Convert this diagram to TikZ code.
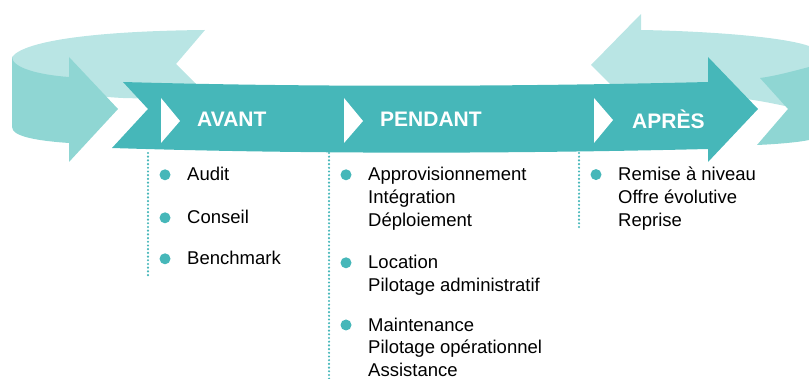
\documentclass[tikz,border=0pt]{standalone}
\usepackage{fontspec}
\setmainfont{Liberation Sans}
\usetikzlibrary{positioning}
\definecolor{ringdark}{HTML}{46B7B9}
\definecolor{ringmid}{HTML}{8FD6D3}
\definecolor{ringlight}{HTML}{B9E5E4}
\tikzset{
 phase/.style={text=white, font=\fontsize{21}{25}\selectfont\bfseries, anchor=west, inner sep=0pt},
 item/.style={font=\fontsize{18.5}{22.7}\selectfont, align=left, anchor=base west, inner sep=0pt},
 bullet/.style={circle, fill=ringdark, minimum size=11pt, inner sep=0pt},
 guide/.style={ringdark, line width=2.4pt, line cap=round, dash pattern=on 0pt off 3.7pt}
}

\begin{document}
\begin{tikzpicture}[x=1pt, y=-1pt]
 \useasboundingbox (0,0) rectangle (809,379);
 % back of the ring
 \fill[ringlight] (12,57) .. controls (25,40) and (100,31) .. (205,30) -- (176,64) -- (200,88)
   -- (200,100) -- (123,98) .. controls (60,95) and (12,80) .. (12,57) -- cycle;
 \fill[ringlight] (591,65) -- (641,14) -- (641,30) .. controls (700,31) and (780,36) .. (809,46)
   -- (809,112) .. controls (780,104) and (740,96) .. (700,95) -- (641,95) -- (641,115) -- cycle;
 % front of the ring
 \fill[ringmid] (12,57) .. controls (12,68) and (40,75) .. (69,77) -- (69,57) -- (118,109)
   -- (69,162) -- (69,143) .. controls (40,141) and (12,137) .. (12,127) -- cycle;
 \fill[ringmid] (760,78) -- (788,109) -- (757,145) .. controls (780,144) and (800,142) .. (809,140)
   -- (809,67) .. controls (790,72) and (775,76) .. (760,78) -- cycle;
 % main arrow
 \fill[ringdark] (123,82) .. controls (300,87) and (500,87) .. (708,82) -- (708,57) -- (758,109)
   -- (708,162) -- (708,149) .. controls (500,154) and (300,154) .. (112,148) -- (148,109) -- cycle;
 \fill[white] (161,98) -- (180,121) -- (161,143) -- cycle;
 \fill[white] (344,98) -- (363,121) -- (344,143) -- cycle;
 \fill[white] (594,98) -- (613,120) -- (594,143) -- cycle;

 \node[phase] (avant) at (197,119) {AVANT};
 \node[phase] (pendant) at (380,119) {PENDANT};
 \node[phase] (apres) at (632,119) {APRÈS};

 \coordinate (g1a) at (148,153);
 \coordinate (g1b) at (148,278);
 \coordinate (g2a) at (329,153);
 \coordinate (g2b) at (329,379);
 \coordinate (g3a) at (579,153);
 \coordinate (g3b) at (579,229);
 \draw[guide] (g1a) -- (g1b);
 \draw[guide] (g2a) -- (g2b);
 \draw[guide] (g3a) -- (g3b);

 % base anchor is the last line
 \node[item] (audit) at (187,181) {Audit};
 \node[item] (conseil) at (187,224) {Conseil};
 \node[item] (bench) at (187,265) {Benchmark};
 \node[item] (appro) at (368,226.4) {Approvisionnement\\Intégration\\Déploiement};
 \node[item] (loc) at (368,291.7) {Location\\Pilotage administratif};
 \node[item] (maint) at (368,376.6) {Maintenance\\Pilotage opérationnel\\Assistance};
 \node[item] (remise) at (618,226.4) {Remise à niveau\\Offre évolutive\\Reprise};

 \foreach \i in {audit,conseil,bench,appro,loc,maint,remise}
  \node[bullet] (b-\i) at ([xshift=-22pt,yshift=-7.4pt]\i.north west) {};
\end{tikzpicture}
\end{document}
